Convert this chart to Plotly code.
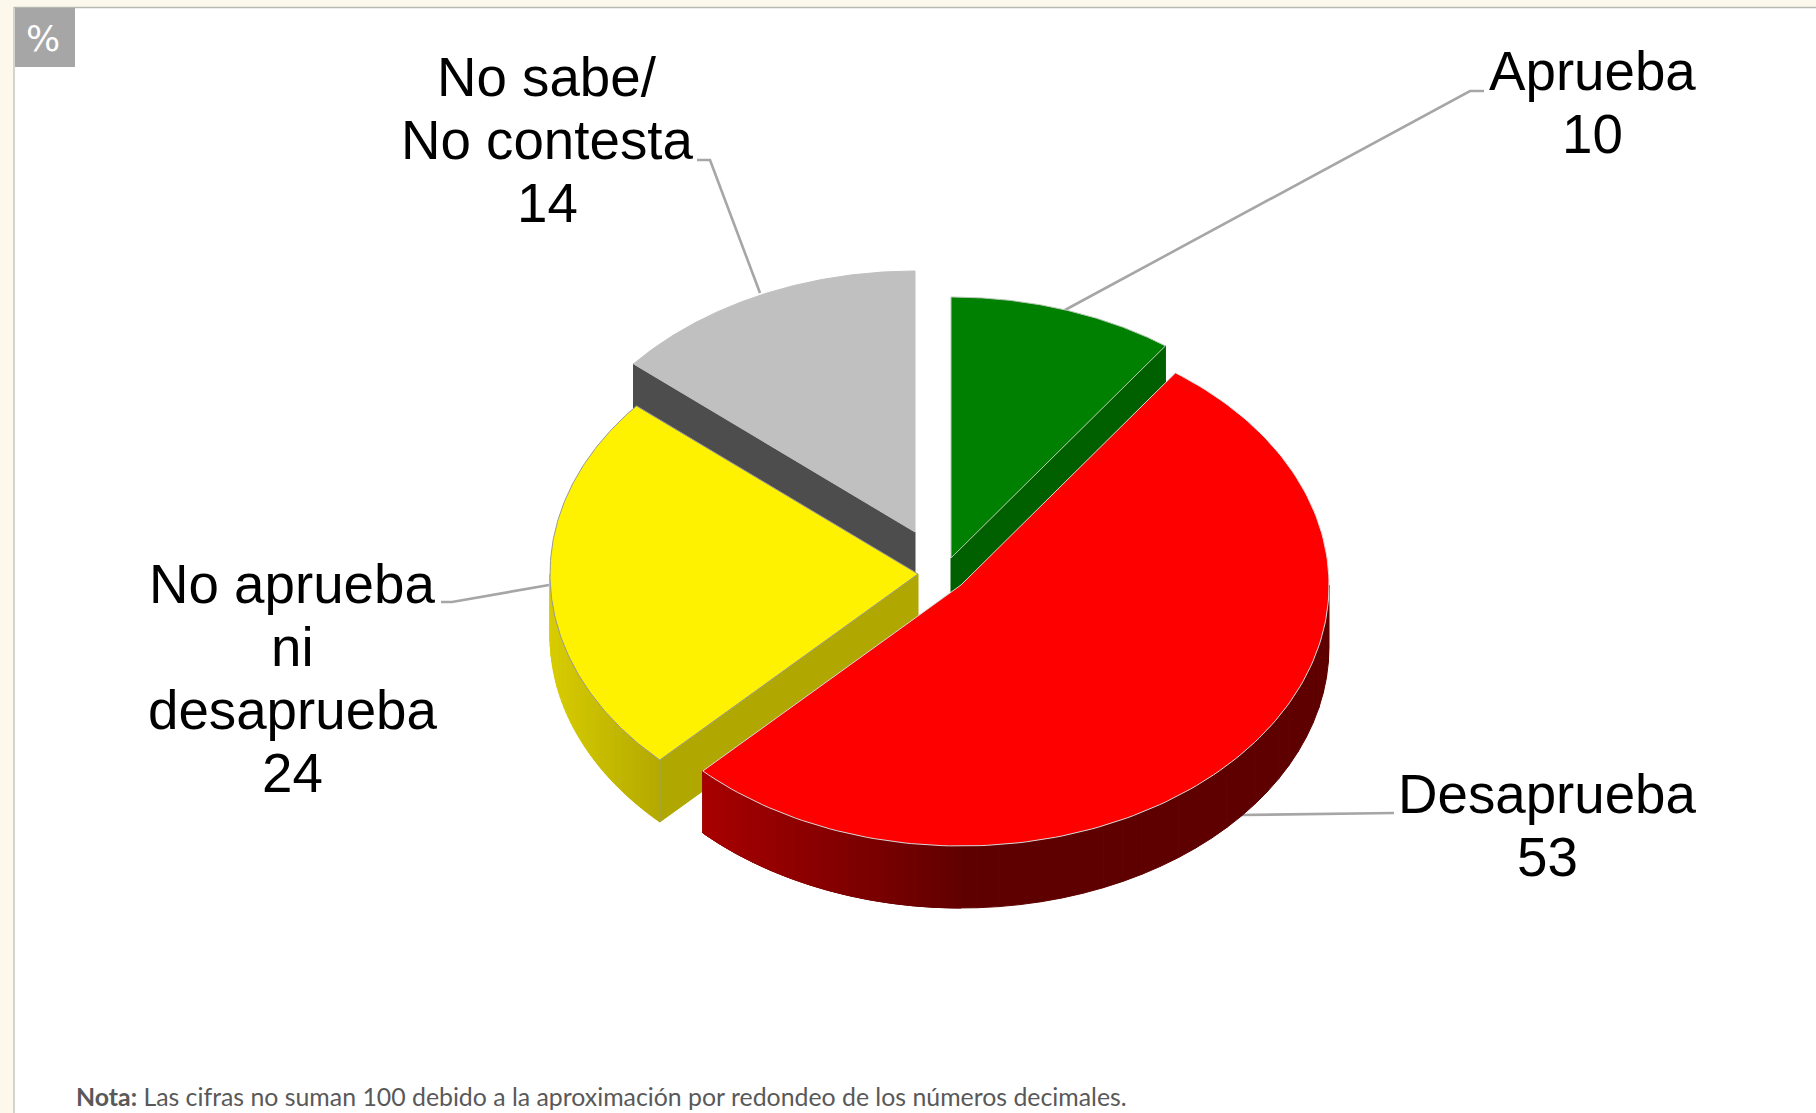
import numpy as np
import plotly.graph_objects as go

categories = ["Aprueba", "Desaprueba", "No aprueba ni desaprueba", "No sabe/No contesta"]
values = [10, 53, 24, 14]
label_lines = [["Aprueba"], ["Desaprueba"], ["No aprueba", "ni", "desaprueba"], ["No sabe/", "No contesta"]]
note_bold = "Nota:"
note_text = " Las cifras no suman 100 debido a la aproximación por redondeo de los números decimales."
unit_label = "%"

W, H = 1816, 1113
RX, RY, DEPTH = 368, 261, 62
APEX = [(951, 558), (961, 585), (918, 574), (915, 532)]
TOP = ["#008000", "#ff0000", "#fff200", "#c0c0c0"]
CUT = ["#006000", "#a00000", "#b0a800", "#4d4d4d"]
EDGE = ["#b5c9b5", "#d8d8d8", "#999999", "#c0c0c0"]
LEADERS = [
    [(1065, 310), (1470, 91), (1484, 91)],
    [(1240, 815), (1378, 813), (1394, 813)],
    [(549, 585), (452, 602), (441, 602)],
    [(760, 293), (710, 160), (697, 160)],
]
LABEL_POS = [(1592, 71), (1547, 794), (292, 584), (547, 77)]
LINE_H = 63
TXT = "Liberation Sans"

total = sum(values)
edges = np.concatenate([[0], np.cumsum(values)]) / total * 2 * np.pi

def pt(apex, th, dz=0):
    return apex[0] + RX * np.sin(th), apex[1] - RY * np.cos(th) + dz

def poly(xs, ys, fill, line=None, width=1):
    return go.Scatter(x=list(xs), y=list(ys), mode="lines", fill="toself", fillcolor=fill,
                      line=dict(color=line or fill, width=width), hoverinfo="skip", showlegend=False)

def mix(c1, c2, t):
    return "rgb(%d,%d,%d)" % tuple(round(a + (b - a) * t) for a, b in zip(c1, c2))

xleft = {1: pt(APEX[1], edges[2])[0], 2: pt(APEX[2], 3 * np.pi / 2)[0]}

def curved_face(i, t0, t1, c1, c2, stop):
    traces = []
    ths = np.linspace(t0, t1, 41)
    for a, b in zip(ths[:-1], ths[1:]):
        arc = np.linspace(a, b, 4)
        xt, yt = pt(APEX[i], arc)
        xb, yb = pt(APEX[i], arc[::-1], DEPTH)
        xm = (xt.mean() - xleft[i]) / stop
        col = mix(c1, c2, min(max(xm, 0), 1))
        traces.append(poly(np.r_[xt, xb, xt[0]], np.r_[yt, yb, yt[0]], col, col, 1))
    return traces

fig = go.Figure()

# leader lines sit beneath the pie
for seg in LEADERS:
    fig.add_trace(go.Scatter(x=[p[0] for p in seg], y=[p[1] for p in seg], mode="lines",
                             line=dict(color="#a6a6a6", width=2.6), hoverinfo="skip", showlegend=False))

def top_face(i):
    arc = np.linspace(edges[i], edges[i + 1], 160)
    x, y = pt(APEX[i], arc)
    return poly(np.r_[APEX[i][0], x, APEX[i][0]], np.r_[APEX[i][1], y, APEX[i][1]], TOP[i], EDGE[i], 1)

def cut_face(i, th):
    x, y = pt(APEX[i], th)
    ax, ay = APEX[i]
    return poly([ax, x, x, ax, ax], [ay, y, y + DEPTH, ay + DEPTH, ay], CUT[i])

# back to front: grey, green, yellow, red
fig.add_trace(cut_face(3, edges[3]))
fig.add_trace(top_face(3))
fig.add_trace(cut_face(0, edges[1]))
fig.add_trace(top_face(0))
fig.add_traces(curved_face(2, edges[2], 3 * np.pi / 2, (216, 204, 0), (180, 170, 0), 108))
fig.add_trace(cut_face(2, edges[2]))
fx, fy = pt(APEX[2], edges[2])
fig.add_trace(go.Scatter(x=[fx, fx], y=[fy, fy + DEPTH], mode="lines",
                         line=dict(color="#999999", width=1), hoverinfo="skip", showlegend=False))
fig.add_trace(top_face(2))
fig.add_traces(curved_face(1, np.pi / 2, edges[2], (94, 0, 0), (94, 0, 0), 1))
fig.add_traces(curved_face(1, np.pi, edges[2], (168, 0, 0), (94, 0, 0), 270))
fig.add_trace(top_face(1))

ann = []
for i, lines in enumerate(label_lines):
    cx, y0 = LABEL_POS[i]
    for k, s in enumerate(lines + [str(values[i])]):
        ann.append(dict(x=cx, y=y0 + k * LINE_H, text=s, xref="x", yref="y", showarrow=False,
                        font=dict(family=TXT, size=54.7, color="#000000"), xanchor="center", yanchor="middle"))
ann.append(dict(x=74, y=1096, xref="x", yref="y", showarrow=False, xanchor="left", yanchor="middle",
                text=f"<b>{note_bold}</b>{note_text}", font=dict(family="Lato", size=24.85, color="#595959")))
ann.append(dict(x=43, y=38, xref="x", yref="y", showarrow=False, xanchor="center", yanchor="middle",
                text=unit_label, font=dict(family="DejaVu Sans", size=36, color="#ffffff")))

shapes = [
    dict(type="rect", xref="x", yref="y", x0=0, x1=W, y0=0, y1=7, fillcolor="#fcf9ec", line_width=0, layer="below"),
    dict(type="rect", xref="x", yref="y", x0=0, x1=13, y0=0, y1=H, fillcolor="#fcf9ec", line_width=0, layer="below"),
    dict(type="line", xref="x", yref="y", x0=14, x1=14, y0=7, y1=H, line=dict(color="#c4c4c0", width=1.5), layer="below"),
    dict(type="line", xref="x", yref="y", x0=14, x1=W, y0=7.5, y1=7.5, line=dict(color="#b8b8b4", width=1.5), layer="below"),
    dict(type="rect", xref="x", yref="y", x0=15, x1=75, y0=8, y1=67, fillcolor="#a6a6a6", line_width=0, layer="below"),
]

fig.update_layout(
    width=W, height=H, margin=dict(l=0, r=0, t=0, b=0), plot_bgcolor="#ffffff", paper_bgcolor="#ffffff",
    xaxis=dict(range=[0, W], visible=False, fixedrange=True),
    yaxis=dict(range=[H, 0], visible=False, fixedrange=True),
    annotations=ann, shapes=shapes, showlegend=False,
)
fig.write_html("out.html", config=dict(displayModeBar=False),
               post_script="document.body.style.margin='0';document.body.style.overflow='hidden';")
